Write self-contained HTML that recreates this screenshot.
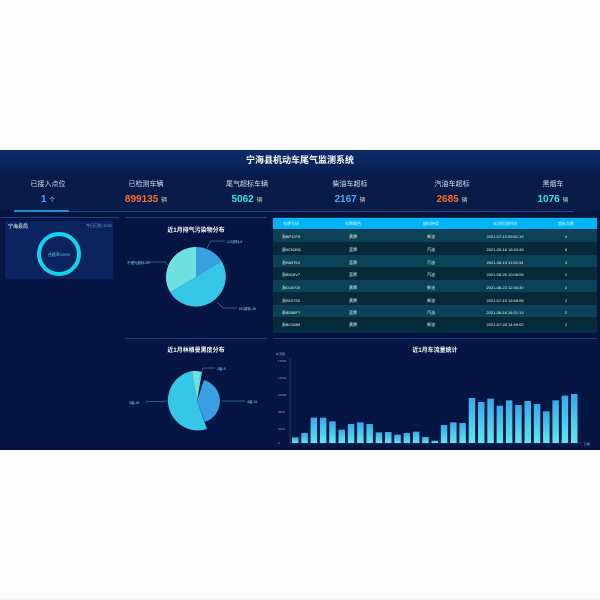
<!DOCTYPE html><html><head><meta charset="utf-8"><style>
html,body{margin:0;padding:0;background:#fdfdfd}
#w{position:relative;width:600px;height:600px;background:#fdfdfd;overflow:hidden;font-family:"Liberation Sans","Noto Sans CJK SC",sans-serif}
.a{position:absolute}
.t{color:#cfe0f5;font-size:7px;text-align:center}
.v{font-size:10px;font-weight:bold;text-align:center}
</style></head><body><div id="w">
<div class="a" style="left:0;top:150px;width:600px;height:300px;background:#061540"></div>
<div class="a" style="left:0;top:150px;width:600px;height:24px;background:linear-gradient(#0b2c6a,#082050)"></div>
<div class="a" style="left:0;top:153px;width:600px;font-size:9px;font-weight:bold;color:#fff;text-align:center">宁海县机动车尾气监测系统</div>
<div class="a" style="left:0;top:174px;width:600px;height:36px;background:#081c4a"></div>
<div class="a" style="left:14px;top:211px;width:560px;height:1px;background:#1d4a86"></div>
<div class="a" style="left:14px;top:210px;width:55px;height:2px;background:#1a8fd0"></div>
<div class="a t" style="left:0;top:179px;width:96px">已接入点位</div>
<div class="a v" style="left:0;top:194px;width:96px;color:#4aa6ff">1 <span style="font-size:6px;color:#ccc;font-weight:normal">个</span></div>
<div class="a t" style="left:98px;top:179px;width:96px">已检测车辆</div>
<div class="a v" style="left:98px;top:194px;width:96px;color:#ff6a2a">899135 <span style="font-size:6px;color:#ccc;font-weight:normal">辆</span></div>
<div class="a t" style="left:199px;top:179px;width:96px">尾气超标车辆</div>
<div class="a v" style="left:199px;top:194px;width:96px;color:#38e0e8">5062 <span style="font-size:6px;color:#ccc;font-weight:normal">辆</span></div>
<div class="a t" style="left:302px;top:179px;width:96px">柴油车超标</div>
<div class="a v" style="left:302px;top:194px;width:96px;color:#4aa6ff">2167 <span style="font-size:6px;color:#ccc;font-weight:normal">辆</span></div>
<div class="a t" style="left:404px;top:179px;width:96px">汽油车超标</div>
<div class="a v" style="left:404px;top:194px;width:96px;color:#ff6a2a">2685 <span style="font-size:6px;color:#ccc;font-weight:normal">辆</span></div>
<div class="a t" style="left:505px;top:179px;width:96px">黑烟车</div>
<div class="a v" style="left:505px;top:194px;width:96px;color:#38e0e8">1076 <span style="font-size:6px;color:#ccc;font-weight:normal">辆</span></div>
<div class="a" style="left:0;top:217px;width:119px;height:232px;background:#051645;border-top:1px solid #1a3f80"></div>
<div class="a" style="left:5px;top:221px;width:108px;height:58px;background:#0b2460"></div>
<div class="a" style="left:8px;top:223px;font-size:5px;color:#fff">宁海县局</div>
<div class="a" style="left:86px;top:223px;font-size:4px;color:#6ac">今日已检 3932</div>
<svg class="a" style="left:0;top:217px" width="120" height="70"><circle cx="59" cy="37" r="20" fill="none" stroke="#10d4ee" stroke-width="4"/><text x="59" y="39" font-size="4" fill="#6ce" text-anchor="middle">合格率100%</text></svg>
<div class="a" style="left:125px;top:217px;width:142px;height:116px;background:#051645;border-top:1px solid #1a3f80"></div>
<div class="a" style="left:125px;top:225px;width:142px;font-size:6px;color:#fff;text-align:center;font-weight:bold">近1月排气污染物分布</div>
<svg class="a" style="left:125px;top:217px" width="142" height="116">
<path d="M71 60 L71 30 A30 30 0 0 1 96.5 44.1 Z" fill="#3a9fe0"/>
<path d="M71 60 L96.5 44.1 A30 30 0 1 1 45 75 Z" fill="#35c6e8"/>
<path d="M71 60 L45 75 A30 30 0 0 1 71 30 Z" fill="#6ee0e0"/>
<polyline points="82,31 86,24 100,24" fill="none" stroke="#5ab" stroke-width=".5"/>
<polyline points="92,85 98,91 112,91" fill="none" stroke="#5ab" stroke-width=".5"/>
<polyline points="46,51 40,45 20,45" fill="none" stroke="#5ab" stroke-width=".5"/>
<text x="102" y="26" font-size="3.5" fill="#8cf">CO超标-6</text>
<text x="114" y="93" font-size="3.5" fill="#8cf">HC超标-46</text>
<text x="2" y="47" font-size="3.5" fill="#8cf">不透光超标-25</text></svg>
<div class="a" style="left:125px;top:338px;width:142px;height:111px;background:#051645;border-top:1px solid #1a3f80"></div>
<div class="a" style="left:125px;top:345px;width:142px;font-size:6px;color:#fff;text-align:center;font-weight:bold">近1月林格曼黑度分布</div>
<svg class="a" style="left:125px;top:338px" width="142" height="111">
<path d="M72 63 L67 33 A30 30 0 1 0 82 91 Z" fill="#35c6e8"/>
<path d="M72 63 L67 33 A30 30 0 0 1 77 34 Z" fill="#6ee0e0"/>
<path d="M72 63 L79 42 A22 22 0 0 1 80 84 Z" fill="#3a9fe0"/>
<polyline points="74,42 78,30 90,30" fill="none" stroke="#5ab" stroke-width=".5"/>
<polyline points="97,63 120,63" fill="none" stroke="#5ab" stroke-width=".5"/>
<polyline points="42,63 20,64" fill="none" stroke="#5ab" stroke-width=".5"/>
<text x="92" y="32" font-size="3.5" fill="#8cf">2级-6</text>
<text x="122" y="65" font-size="3.5" fill="#8cf">4级-31</text>
<text x="4" y="66" font-size="3.5" fill="#8cf">3级-45</text></svg>
<div class="a" style="left:273px;top:217px;width:324px;height:116px;background:#04304a"></div>
<div class="a" style="left:273px;top:218px;width:324px;height:11px;background:#00b4fa"></div>
<svg class="a" style="left:273px;top:217px" width="324" height="116" font-size="4" fill="#e8f4ff" text-anchor="middle">
<g fill="#0b4258"><rect y="13" width="324" height="12"/><rect y="38" width="324" height="12"/><rect y="63" width="324" height="12"/><rect y="88" width="324" height="12"/></g>
<g fill="#072a38"><rect y="25" width="324" height="13"/><rect y="50" width="324" height="13"/><rect y="75" width="324" height="13"/><rect y="100" width="324" height="12"/></g>
<text x="18" y="8">车牌号码</text><text x="80" y="8">车牌颜色</text><text x="158" y="8">燃料种类</text><text x="232" y="8">末次检测时间</text><text x="293" y="8">超标次数</text>
<g><text x="18" y="21">浙BP1379</text><text x="80" y="21">黄牌</text><text x="158" y="21">柴油</text><text x="232" y="21">2021-07-13 09:51:19</text><text x="293" y="21">6</text></g>
<g><text x="18" y="34">浙BCN306</text><text x="80" y="34">蓝牌</text><text x="158" y="34">汽油</text><text x="232" y="34">2021-08-18 16:43:48</text><text x="293" y="34">6</text></g>
<g><text x="18" y="47">浙B69754</text><text x="80" y="47">蓝牌</text><text x="158" y="47">汽油</text><text x="232" y="47">2021-08-19 11:52:34</text><text x="293" y="47">3</text></g>
<g><text x="18" y="59">浙B916V7</text><text x="80" y="59">蓝牌</text><text x="158" y="59">汽油</text><text x="232" y="59">2021-08-26 10:08:06</text><text x="293" y="59">2</text></g>
<g><text x="18" y="72">浙D18700</text><text x="80" y="72">黄牌</text><text x="158" y="72">柴油</text><text x="232" y="72">2021-08-23 12:34:30</text><text x="293" y="72">2</text></g>
<g><text x="18" y="85">浙B10733</text><text x="80" y="85">黄牌</text><text x="158" y="85">柴油</text><text x="232" y="85">2021-07-19 13:55:05</text><text x="293" y="85">2</text></g>
<g><text x="18" y="97">浙B55BF7</text><text x="80" y="97">蓝牌</text><text x="158" y="97">汽油</text><text x="232" y="97">2021-08-18 16:21:19</text><text x="293" y="97">2</text></g>
<g><text x="18" y="109">浙BC5389</text><text x="80" y="109">黄牌</text><text x="158" y="109">柴油</text><text x="232" y="109">2021-07-28 14:49:02</text><text x="293" y="109">2</text></g>
</svg>
<div class="a" style="left:273px;top:338px;width:324px;height:111px;background:#051645;border-top:1px solid #1a3f80"></div>
<div class="a" style="left:273px;top:345px;width:324px;font-size:6px;color:#fff;text-align:center;font-weight:bold">近1月车流量统计</div>
<svg class="a" style="left:0;top:0" width="600" height="450">
<defs><linearGradient id="g" x1="0" y1="0" x2="0" y2="1"><stop offset="0" stop-color="#3aa8e8"/><stop offset="1" stop-color="#5ee8ee"/></linearGradient></defs>
<line x1="290" y1="358" x2="290" y2="443" stroke="#556" stroke-width=".5"/>
<line x1="290" y1="443" x2="582" y2="443" stroke="#556" stroke-width=".5"/>
<g font-size="3" fill="#8ab"><text x="276" y="355">车流量</text><text x="278" y="362">17000</text><text x="278" y="379">13600</text><text x="278" y="396">10200</text><text x="278" y="413">6800</text><text x="278" y="430">3400</text><text x="278" y="444">0</text><text x="584" y="445">日期</text></g>
<g fill="url(#g)" id="bars"></g></svg>
<div class="a" style="left:0;top:450px;width:600px;height:150px;background:#fdfdfd;z-index:10"></div>
<div class="a" style="left:0;top:598px;width:600px;height:2px;background:#f4f4f4;z-index:11"></div>
</div>
<script>
var t=[323,310,264,264,275,300,283,278,283,308,307,315,310,306,322,333,286,278,280,205,217,207,228,212,226,214,223,245,212,198,193];
var s='';t.forEach(function(v,i){var h=(340-v)/3;var x=292+i*9.3;s+='<rect x="'+x+'" y="'+(443-h)+'" width="6.5" height="'+h+'"/>';});
document.getElementById('bars').innerHTML=s;
</script>
</body></html>
